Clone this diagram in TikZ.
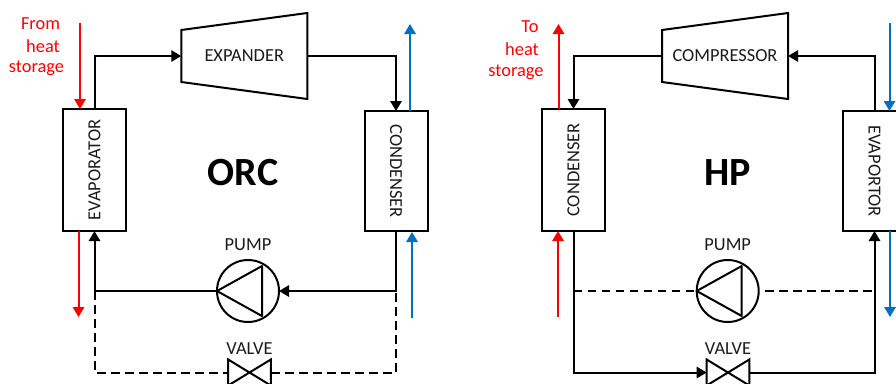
\documentclass[tikz,border=0pt]{standalone}
\usepackage{fontspec}
\setmainfont{Carlito}
\usetikzlibrary{arrows.meta}
\definecolor{hot}{HTML}{FF0000}
\definecolor{cold}{HTML}{0070C0}
\definecolor{ink}{HTML}{1A1A1A}
\tikzset{
  x=.75pt,y=-.75pt,
  every node/.style={inner sep=0pt,outer sep=0pt,font=\fontsize{13.8pt}{16pt}\selectfont,text=ink},
  tip/.style={-{Triangle[width=8.5pt,length=7.5pt]}},
  flow/.style={draw=black,line width=1.5pt,line join=miter},
  dashflow/.style={flow,dash pattern=on 6.5pt off 4pt},
  hotline/.style={draw=hot,line width=1.5pt,tip},
  coldline/.style={draw=cold,line width=1.5pt,tip},
  hx/.style={draw=black,line width=1.5pt,minimum height=47.25pt},
  hxtall/.style={hx,minimum width=91.5pt},
  hxshort/.style={hx,minimum width=90pt},
  machine/.style={minimum width=94.5pt,minimum height=64.5pt},
  pumpbody/.style={circle,draw=black,line width=1.5pt,minimum size=46.5pt},
  valvebody/.style={minimum width=32pt,minimum height=19.5pt},
  hotlabel/.style={text=hot},
  title/.style={font=\fontsize{30pt}{32pt}\selectfont\bfseries,text=black},
}
\newcommand{\valvemark}[1]{%
  \draw[flow] (#1.north west) -- (#1.south east) -- (#1.north east) -- (#1.south west) -- cycle;}
\newcommand{\pumpmark}[1]{%
  \draw[flow,line join=round] (#1.west) -- ([shift={(10.5pt,18.75pt)}]#1.center) -- ([shift={(10.5pt,-18.75pt)}]#1.center) -- cycle;}
\newcommand{\trapez}[1]{%
  \draw[flow] (#1.north east) -- (#1.south east) -- ([yshift=12.75pt]#1.south west) -- ([yshift=-12.75pt]#1.north west) -- cycle;}
\begin{document}
\begin{tikzpicture}
\clip (0,0) rectangle (896,383);
% ---------- ORC ----------
\node[hxtall,rotate=90] (evapL) at (94.5,170) {EVAPORATOR};
\node[hxshort,rotate=-90] (condL) at (396,171) {CONDENSER};
\node[machine] (expander) at (244.25,56) {EXPANDER};
\trapez{expander}
\node[pumpbody] (pumpL) at (248,291) {};
\pumpmark{pumpL}
\node[valvebody] (valveL) at (249.5,372.5) {};
\valvemark{valveL}
\node (pumpLlabel) at (248,245) {PUMP};
\node (valveLlabel) at (249.5,349) {VALVE};
\node[title] (orc) at (243,173) {ORC};
\node[hotlabel] (fromA) at (40.5,24) {From};
\node[hotlabel] (fromB) at (43,46) {heat};
\node[hotlabel] (fromC) at (36.5,68) {storage};
\draw[flow,tip] (evapL.east) |- (expander.west);
\draw[flow,tip] (expander.east) -| (condL.west);
\draw[flow,tip] (condL.east) |- (pumpL.east);
\draw[flow,tip] (pumpL.west) -| (evapL.west);
\coordinate (jL) at (evapL.west |- pumpL.west);
\coordinate (kL) at (condL.east |- pumpL.east);
\draw[dashflow] (jL) |- (valveL.west);
\draw[dashflow] (valveL.east) -| (kL);
\coordinate (rL1) at (80,23);
\coordinate (rL2) at (78.5,231);
\coordinate (rL3) at (78.5,317);
\coordinate (bL1) at (410,111);
\coordinate (bL2) at (410,24);
\coordinate (bL3) at (412,318);
\coordinate (bL4) at (412,232);
\draw[hotline] (rL1) -- (rL1 |- evapL.east);
\draw[hotline] (rL2) -- (rL3);
\draw[coldline] (bL1) -- (bL2);
\draw[coldline] (bL3) -- (bL4);
% ---------- HP ----------
\node[hxtall,rotate=90] (condR) at (573.5,170) {CONDENSER};
\node[hxshort,rotate=-90] (evapR) at (874.5,171) {EVAPORTOR};
\node[machine] (compressor) at (725,56) {COMPRESSOR};
\trapez{compressor}
\node[pumpbody] (pumpR) at (727.7,291) {};
\pumpmark{pumpR}
\node[valvebody] (valveR) at (728,372.5) {};
\valvemark{valveR}
\node (pumpRlabel) at (727.7,245) {PUMP};
\node (valveRlabel) at (728,349) {VALVE};
\node[title] (hp) at (728,173) {HP};
\node[hotlabel] (toA) at (530,27) {To};
\node[hotlabel] (toB) at (522,49) {heat};
\node[hotlabel] (toC) at (516,72) {storage};
\draw[flow,tip] (compressor.west) -| (condR.east);
\draw[flow,tip] (evapR.west) |- (compressor.east);
\draw[flow,tip] (condR.west) |- (valveR.west);
\draw[flow,tip] (valveR.east) -| (evapR.east);
\coordinate (jR) at (condR.west |- pumpR.west);
\coordinate (kR) at (evapR.east |- pumpR.east);
\draw[dashflow] (jR) -- (pumpR.west);
\draw[dashflow] ([xshift=5pt]pumpR.east) -- (kR);
\coordinate (rR1) at (558.5,109);
\coordinate (rR2) at (558.5,24);
\coordinate (rR3) at (558,317);
\coordinate (rR4) at (558,231);
\coordinate (bR1) at (889.5,23);
\coordinate (bR2) at (889.5,111);
\coordinate (bR3) at (890,231);
\coordinate (bR4) at (890,317);
\draw[hotline] (rR1) -- (rR2);
\draw[hotline] (rR3) -- (rR4);
\draw[coldline] (bR1) -- (bR2);
\draw[coldline] (bR3) -- (bR4);
\end{tikzpicture}
\end{document}
